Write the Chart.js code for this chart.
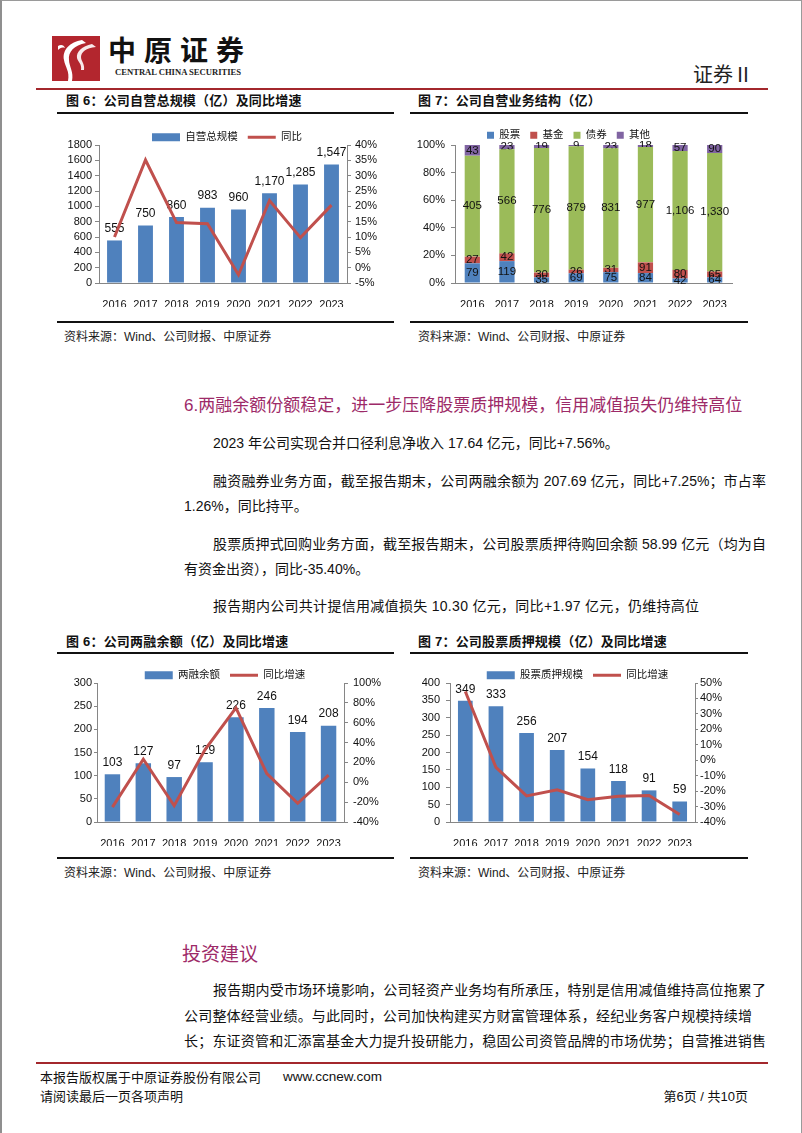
<!DOCTYPE html>
<html><head><meta charset="utf-8">
<script src="https://cdn.jsdelivr.net/npm/chart.js@4.4.1/dist/chart.umd.min.js"></script>
<style>
html,body{margin:0;padding:0;background:#fff;}
body{width:802px;height:1133px;position:relative;overflow:hidden;font-family:"Liberation Sans","Noto Sans CJK SC",sans-serif;color:#111;}
.a{position:absolute;white-space:nowrap;}
.frame{position:absolute;left:0;top:0;width:799px;height:1133px;border-left:2px solid #8f8f8f;border-top:1px solid #9a9a9a;border-right:1px solid #9a9a9a;box-sizing:content-box;}
.rl{position:absolute;height:2px;background:#a3272c;}
.bl{position:absolute;height:2px;background:#111;}
.ct{position:absolute;font-size:13px;font-weight:bold;line-height:16px;letter-spacing:0.2px;white-space:nowrap;}
.src{position:absolute;font-size:12px;line-height:16px;white-space:nowrap;color:#222;}
.p{position:absolute;font-size:14px;line-height:20px;height:20px;color:#111;}
.j{text-align:justify;text-align-last:justify;}
.h{position:absolute;color:#9d2a68;white-space:nowrap;}
.cv{position:absolute;}
</style>
</head><body>
<div class="frame"></div>

<!-- header -->
<svg class="a" style="left:52px;top:36px" width="48" height="45" viewBox="0 0 48 45">
  <rect x="0" y="0" width="48" height="45" fill="#b3262e"/>
  <path d="M30 4 C18 6 10 14 12 24 C13 31 18 35 16 45 L20 45 C22 36 17 30 17 24 C16 16 22 9 34 7 Z" fill="#fff"/>
  <path d="M40 8 C30 10 24 16 25 22 C26 26 30 28 29 34 L32 34 C33 28 29 25 29 21 C29 16 34 12 44 11 Z" fill="#fff" opacity="0.9"/>
  <path d="M6 10 C9 8 12 9 13 12 C10 11 8 12 6 14 Z" fill="#fff"/>
</svg>
<div class="a" style="left:108px;top:36px;font-size:28px;line-height:32px;font-weight:bold;letter-spacing:8px;color:#111;">中原证券</div>
<div class="a" style="left:115px;top:67px;font-family:'Liberation Serif',serif;font-size:8.6px;line-height:10px;font-weight:bold;color:#222;">CENTRAL CHINA SECURITIES</div>
<div class="a" style="left:693px;top:62px;font-size:20px;line-height:26px;color:#222;">证券Ⅱ</div>
<div class="rl" style="left:36px;top:88px;width:732px;"></div>

<!-- top chart titles -->
<div class="ct" style="left:66px;top:93px;">图 6：公司自营总规模（亿）及同比增速</div>
<div class="ct" style="left:418px;top:93px;">图 7：公司自营业务结构（亿）</div>
<div class="bl" style="left:57px;top:112px;width:337px;"></div>
<div class="bl" style="left:410px;top:112px;width:338px;"></div>

<div class="cv" style="left:60px;top:122px;width:334px;height:185px;"><canvas id="c1" width="334" height="185"></canvas></div>
<div class="cv" style="left:405px;top:120px;width:340px;height:187px;"><canvas id="c2" width="340" height="187"></canvas></div>

<div class="bl" style="left:57px;top:321px;width:337px;"></div>
<div class="bl" style="left:410px;top:321px;width:338px;"></div>
<div class="src" style="left:64px;top:329px;">资料来源：Wind、公司财报、中原证券</div>
<div class="src" style="left:418px;top:329px;">资料来源：Wind、公司财报、中原证券</div>

<!-- section text -->
<div class="h" style="left:184px;top:394px;font-size:17px;line-height:24px;">6.两融余额份额稳定，进一步压降股票质押规模，信用减值损失仍维持高位</div>
<div class="p" style="left:213px;top:433px;">2023 年公司实现合并口径利息净收入 17.64 亿元，同比+7.56%。</div>
<div class="p j" style="left:213px;top:471px;width:553px;">融资融券业务方面，截至报告期末，公司两融余额为 207.69 亿元，同比+7.25%；市占率</div>
<div class="p" style="left:184px;top:496px;">1.26%，同比持平。</div>
<div class="p j" style="left:213px;top:534px;width:553px;">股票质押式回购业务方面，截至报告期末，公司股票质押待购回余额 58.99 亿元（均为自</div>
<div class="p" style="left:184px;top:559px;">有资金出资），同比-35.40%。</div>
<div class="p" style="left:213px;top:596px;letter-spacing:0.3px;">报告期内公司共计提信用减值损失 10.30 亿元，同比+1.97 亿元，仍维持高位</div>

<!-- bottom chart titles -->
<div class="ct" style="left:66px;top:634px;">图 6：公司两融余额（亿）及同比增速</div>
<div class="ct" style="left:418px;top:634px;">图 7：公司股票质押规模（亿）及同比增速</div>
<div class="bl" style="left:57px;top:652px;width:337px;"></div>
<div class="bl" style="left:410px;top:652px;width:338px;"></div>

<div class="cv" style="left:60px;top:660px;width:330px;height:186px;"><canvas id="c3" width="330" height="186"></canvas></div>
<div class="cv" style="left:410px;top:660px;width:335px;height:186px;"><canvas id="c4" width="335" height="186"></canvas></div>

<div class="bl" style="left:57px;top:857px;width:337px;"></div>
<div class="bl" style="left:410px;top:857px;width:338px;"></div>
<div class="src" style="left:64px;top:865px;">资料来源：Wind、公司财报、中原证券</div>
<div class="src" style="left:418px;top:865px;">资料来源：Wind、公司财报、中原证券</div>

<!-- investment advice -->
<div class="h" style="left:182px;top:941px;font-size:19px;line-height:28px;">投资建议</div>
<div class="p j" style="left:213px;top:980px;width:553px;">报告期内受市场环境影响，公司轻资产业务均有所承压，特别是信用减值维持高位拖累了</div>
<div class="p j" style="left:184px;top:1006px;width:568px;">公司整体经营业绩。与此同时，公司加快构建买方财富管理体系，经纪业务客户规模持续增</div>
<div class="p j" style="left:184px;top:1031px;width:582px;">长；东证资管和汇添富基金大力提升投研能力，稳固公司资管品牌的市场优势；自营推进销售</div>

<!-- footer -->
<div class="rl" style="left:36px;top:1062px;width:732px;"></div>
<div class="a" style="left:40px;top:1070px;font-size:13px;line-height:16px;">本报告版权属于中原证券股份有限公司</div>
<div class="a" style="left:283px;top:1069px;font-size:13.5px;line-height:16px;">www.ccnew.com</div>
<div class="a" style="left:40px;top:1089px;font-size:13px;line-height:16px;">请阅读最后一页各项声明</div>
<div class="a" style="left:660px;top:1089px;font-size:13px;line-height:16px;width:88px;text-align:right;">第6页 / 共10页</div>

<script>
// ---------- data ----------
const years = ['2016','2017','2018','2019','2020','2021','2022','2023'];

// chart 1: proprietary trading total scale
const scaleTotal = [555, 750, 860, 983, 960, 1170, 1285, 1547];
const scaleYoY   = [10.0, 35.1, 14.7, 14.3, -2.3, 21.9, 9.8, 20.4];

// chart 2: structure (亿)
const structStock = [79, 119, 35, 69, 75, 84, 42, 64];
const structFund  = [27, 42, 30, 26, 31, 91, 80, 65];
const structBond  = [405, 566, 776, 879, 831, 977, 1106, 1330];
const structOther = [43, 23, 19, 9, 23, 18, 57, 90];

// chart 3: margin balance
const marginBal = [103, 127, 97, 129, 226, 246, 194, 208];
const marginYoY = [-25, 23.3, -23.6, 33.0, 75.0, 8.8, -21.1, 7.2];

// chart 4: stock pledge
const pledgeBal = [349, 333, 256, 207, 154, 118, 91, 59];
const pledgeYoY = [44.5, -4.6, -23.1, -19.1, -25.6, -23.4, -22.9, -35.2];

// tick ranges
const ax1L = [0, 1800, 200], ax1R = [-5, 40, 5];
const ax2L = [0, 100, 20];
const ax3L = [0, 300, 50], ax3R = [-40, 100, 20];
const ax4L = [0, 400, 50], ax4R = [-40, 50, 10];

// ---------- styling ----------
const FAM = '"Liberation Sans", "Noto Sans CJK SC", sans-serif';
Chart.defaults.font.family = FAM;
Chart.defaults.color = '#111';
const BLUE = '#4f81bd', RED = '#c0504d', GREEN = '#9bbb59', PURPLE = '#8064a2', AX = '#868686';

const valueLabels = {
  id: 'valueLabels',
  afterDatasetDraw(chart, args, opts) {
    if (!opts || !opts.enabled) return;
    const ds = chart.data.datasets[args.index];
    if (ds.type === 'line') return;
    const meta = args.meta;
    const ctx = chart.ctx;
    ctx.save();
    ctx.font = opts.size + 'px ' + FAM;
    ctx.fillStyle = '#111';
    ctx.textAlign = 'center';
    ctx.textBaseline = 'middle';
    const vals = ds.rawValues || ds.data;
    meta.data.forEach((el, i) => {
      const v = vals[i];
      const txt = Number(v).toLocaleString('en-US');
      const y = opts.mode === 'center' ? (el.y + el.base) / 2 : el.y - opts.offset;
      ctx.fillText(txt, el.x, y);
    });
    ctx.restore();
  }
};

function yAxis(pos, rng, width, tickLen, pad, pct) {
  return {
    type: 'linear', position: pos, min: rng[0], max: rng[1],
    grid: { display: true, drawOnChartArea: false, drawTicks: true, tickLength: tickLen, color: AX },
    border: { display: true, color: AX, width: 1 },
    ticks: { stepSize: rng[2], autoSkip: false, padding: pad, font: { size: 11 }, color: '#111',
      callback: pct ? (v) => v + '%' : (v) => v },
    afterFit: (s) => { s.width = width; }
  };
}
function xAxis(stacked) {
  return {
    stacked: !!stacked,
    grid: { display: false },
    border: { display: true, color: AX, width: 1 },
    ticks: { padding: 7, font: { size: 11 }, color: '#111', maxRotation: 0, autoSkip: false },
    afterFit: (s) => { s.height = 24; }
  };
}
function comboLegend(maxH) {
  return {
    display: true, position: 'top', maxHeight: maxH,
    labels: { usePointStyle: true, pointStyleWidth: 28, boxHeight: 8, padding: 10,
      font: { size: 10.5 }, color: '#111',
      sort: (a, b) => a.datasetIndex - b.datasetIndex }
  };
}
function combo(id, labelBar, labelLine, bars, line, L, R, wL, wR, tL, pL, tR, pR, barPct, maxH) {
  return new Chart(document.getElementById(id), {
    type: 'bar',
    data: {
      labels: years,
      datasets: [
        { type: 'bar', label: labelBar, data: bars, backgroundColor: BLUE, borderWidth: 0,
          barPercentage: barPct, categoryPercentage: 1, yAxisID: 'y', order: 2, pointStyle: 'rect' },
        { type: 'line', label: labelLine, data: line, borderColor: RED, backgroundColor: RED,
          borderWidth: 3, pointRadius: 0, tension: 0, yAxisID: 'y1', order: 1, pointStyle: 'line' }
      ]
    },
    options: {
      responsive: false, animation: false, devicePixelRatio: 1,
      layout: { padding: 0 },
      plugins: { legend: comboLegend(maxH), tooltip: { enabled: false },
        valueLabels: { enabled: true, mode: 'top', offset: 11.5, size: 12 } },
      scales: {
        x: xAxis(false),
        y: yAxis('left', L, wL, tL, pL, false),
        y1: yAxis('right', R, wR, tR, pR, true)
      }
    },
    plugins: [valueLabels]
  });
}

combo('c1', '自营总规模', '同比', scaleTotal, scaleYoY, ax1L, ax1R, 39, 47, 4, 3, 4, 4, 0.48, 23);
combo('c3', '两融余额', '同比增速', marginBal, marginYoY, ax3L, ax3R, 37, 46, 3, 2, 4, 5, 0.5, 23);
combo('c4', '股票质押规模', '同比增速', pledgeBal, pledgeYoY, ax4L, ax4R, 40, 50, 4, 6, 3, 2, 0.48, 23);

// chart 2: 100% stacked structure
const totals = years.map((_, i) => structStock[i] + structFund[i] + structBond[i] + structOther[i]);
const share = (arr) => arr.map((v, i) => v / totals[i] * 100);
new Chart(document.getElementById('c2'), {
  type: 'bar',
  data: {
    labels: years,
    datasets: [
      { label: '股票', data: share(structStock), rawValues: structStock, backgroundColor: BLUE },
      { label: '基金', data: share(structFund), rawValues: structFund, backgroundColor: RED },
      { label: '债券', data: share(structBond), rawValues: structBond, backgroundColor: GREEN },
      { label: '其他', data: share(structOther), rawValues: structOther, backgroundColor: PURPLE }
    ].map(d => Object.assign(d, { borderWidth: 0, barPercentage: 0.44, categoryPercentage: 1 }))
  },
  options: {
    responsive: false, animation: false, devicePixelRatio: 1,
    layout: { padding: { right: 13 } },
    plugins: {
      legend: { display: true, position: 'top', maxHeight: 25,
        labels: { boxWidth: 7, boxHeight: 7, padding: 10, font: { size: 10.5 }, color: '#111' } },
      tooltip: { enabled: false },
      valueLabels: { enabled: true, mode: 'center', offset: 0, size: 11.5 }
    },
    scales: {
      x: xAxis(true),
      y: Object.assign(yAxis('left', ax2L, 50, 4, 6, true), { stacked: true })
    }
  },
  plugins: [valueLabels]
});
</script>
</body></html>
